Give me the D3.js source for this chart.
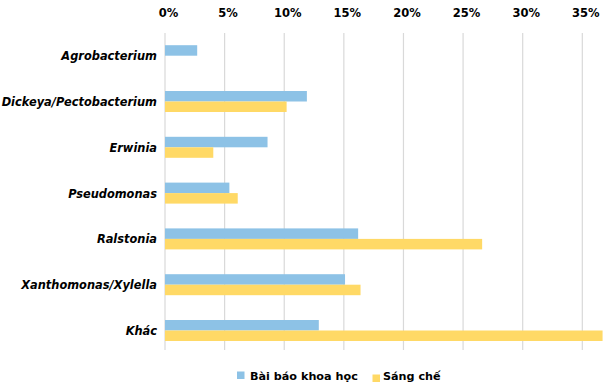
<!DOCTYPE html>
<html><head><meta charset="utf-8">
<script src="https://cdn.jsdelivr.net/npm/d3@7"></script>
<style>body{margin:0;background:#fff}svg{display:block}</style>
</head><body><svg id="c" width="613" height="392"></svg>
<script>
const categories = ["Agrobacterium","Dickeya/Pectobacterium","Erwinia","Pseudomonas","Ralstonia","Xanthomonas/Xylella","Khác"];
const seriesNames = ["Bài báo khoa học","Sáng chế"];
const articles = [2.7, 11.9, 8.6, 5.4, 16.2, 15.1, 12.9];
const patents  = [0, 10.2, 4.05, 6.1, 26.6, 16.4, 36.7];
const ticks = [0,5,10,15,20,25,30,35];
const colors = ["#8dc2e6","#ffd966"];

const svg = d3.select("#c");
const x = d3.scaleLinear().domain([0,35]).range([165,582.3]);
const y = d3.scalePoint().domain(categories).range([55.7,330.5]);
const barH = 10.5;
const font = "'DejaVu Sans', Verdana, sans-serif";

// gridlines
svg.append("g").selectAll("line").data(ticks).join("line")
  .attr("x1",d=>x(d)).attr("x2",d=>x(d)).attr("y1",33).attr("y2",350)
  .attr("stroke","#d9d9d9").attr("stroke-width",1.2);

// top axis labels
const ax = svg.append("g").attr("transform","translate(3,20)")
  .call(d3.axisTop(x).tickValues(ticks).tickSize(0).tickFormat(d=>d+"%"));
ax.select(".domain").remove();
ax.selectAll("text").attr("font-family",font).attr("font-size",11.5).attr("font-weight","bold").attr("fill","#000").attr("dy",0);

// bars
const seriesData = [articles, patents];
seriesData.forEach((vals,si)=>{
  svg.append("g").selectAll("rect").data(categories).join("rect")
    .attr("x",x(0))
    .attr("y",(c)=>y(c) - barH + si*barH)
    .attr("width",(c,i)=>Math.max(0,x(vals[i])-x(0)))
    .attr("height",barH)
    .attr("fill",colors[si]);
});

// category labels
const ay = svg.append("g").attr("transform","translate(157,0)")
  .call(d3.axisLeft(y).tickSize(0).tickPadding(0));
ay.select(".domain").remove();
ay.selectAll("text").attr("font-family",font).attr("font-size",11.4).attr("font-weight","bold")
  .attr("font-style","italic").attr("fill","#000").attr("dy","0.35em");

// legend
const leg = svg.append("g");
const legPos = [{sx:237,sy:371.5,tx:250},{sx:372.5,sy:374.5,tx:383}];
seriesNames.forEach((n,i)=>{
  leg.append("rect").attr("x",legPos[i].sx).attr("y",legPos[i].sy).attr("width",7.5).attr("height",7.5).attr("fill",colors[i]);
  leg.append("text").attr("x",legPos[i].tx).attr("y",380).text(n)
    .attr("font-family",font).attr("font-size",11.2).attr("font-weight","bold").attr("fill","#000");
});
</script></body></html>
